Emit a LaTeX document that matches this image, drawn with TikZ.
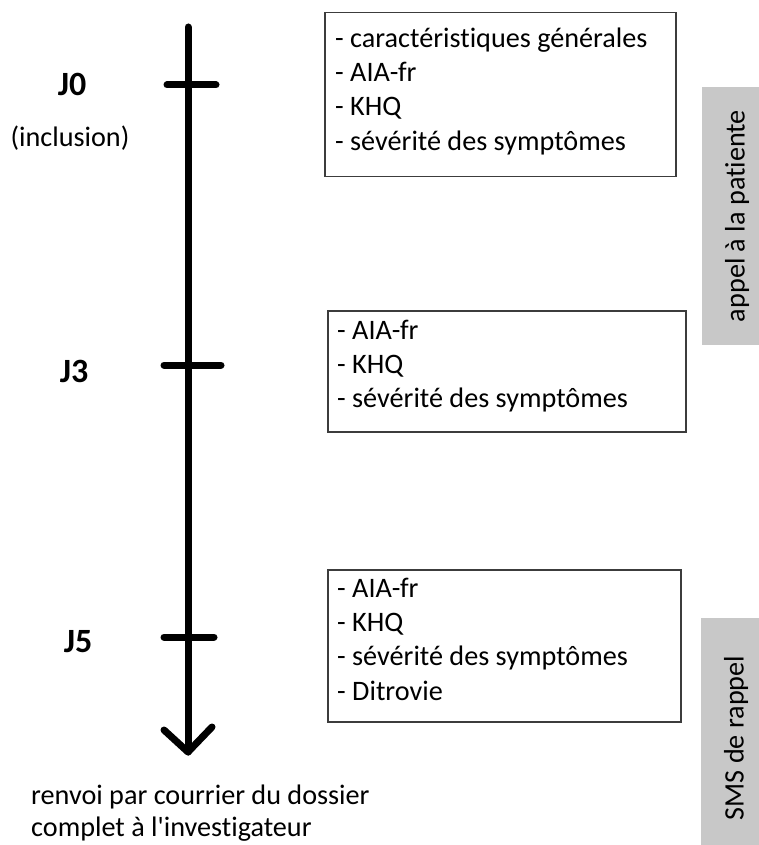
\documentclass[tikz,border=0pt]{standalone}
\usepackage{fontspec}
\setmainfont{Carlito}[Ligatures={TeXOff,CommonOff}]
\definecolor{boxgray}{RGB}{200,200,200}
\definecolor{frame}{RGB}{60,60,60}
\tikzset{
  axisline/.style={line width=7pt, line cap=round, black},
  tickline/.style={line width=7pt, line cap=round, black},
  infobox/.style={draw=frame, line width=1.5pt, inner sep=0pt, anchor=north west},
  infotext/.style={anchor=north west, inner sep=0pt, align=left,
    font=\fontsize{28.2}{34.3}\selectfont},
  daylabel/.style={anchor=base, inner sep=0pt, font=\fontsize{34}{38}\selectfont\bfseries},
  plain/.style={inner sep=0pt, font=\fontsize{28.2}{32}\selectfont},
  sidebar/.style={fill=boxgray, inner sep=0pt, anchor=north west},
}
\begin{document}
\begin{tikzpicture}[x=1pt,y=-1pt]
\useasboundingbox (0,0) rectangle (759,845);

% side gray bars
\node[sidebar, minimum width=57pt, minimum height=258pt] (bar1) at (702,87) {};
\node[rotate=90, plain] (bar1t) at (737,216) {appel à la patiente};
\node[sidebar, minimum width=58pt, minimum height=227pt] (bar2) at (701,618) {};
\node[rotate=90, plain] (bar2t) at (736,738) {SMS de rappel};

% timeline
\coordinate (top) at (188,27);
\coordinate (tip) at (188,752);
\coordinate (hl) at (164,730);
\coordinate (hr) at (212,727);
\draw[axisline] (top) -- (tip);
\draw[axisline, line join=round] (hl) -- (tip) -- (hr);

\coordinate (t0a) at (167,85);  \coordinate (t0b) at (216,85);
\coordinate (t3a) at (164,365); \coordinate (t3b) at (221,365);
\coordinate (t5a) at (164,637); \coordinate (t5b) at (214,637);
\draw[tickline] (t0a) -- (t0b);
\draw[tickline] (t3a) -- (t3b);
\draw[tickline] (t5a) -- (t5b);

% day labels
\node[daylabel] (j0) at (72,96) {J0};
\node[plain, anchor=base] (incl) at (70,147) {(inclusion)};
\node[daylabel] (j3) at (74,382) {J3};
\node[daylabel] (j5) at (78,652) {J5};

% boxes
\node[infobox, minimum width=351pt, minimum height=164pt] (box1) at (324,12) {};
\node[infotext] (box1t) at (335,23) {\strut- caractéristiques générales\\- AIA-fr\\- KHQ\\- sévérité des symptômes};

\node[infobox, minimum width=358pt, minimum height=121pt] (box2) at (327,310) {};
\node[infotext] (box2t) at (337,315) {\strut- AIA-fr\\- KHQ\\- sévérité des symptômes};

\node[infobox, minimum width=353pt, minimum height=152pt] (box3) at (327,569) {};
\node[infotext] (box3t) at (337,573) {\strut- AIA-fr\\- KHQ\\- sévérité des symptômes\\- Ditrovie};

% bottom text
\node[plain, anchor=base west, align=left] (final) at (31,836) {renvoi par courrier du dossier\\complet à l'investigateur};
\end{tikzpicture}
\end{document}
